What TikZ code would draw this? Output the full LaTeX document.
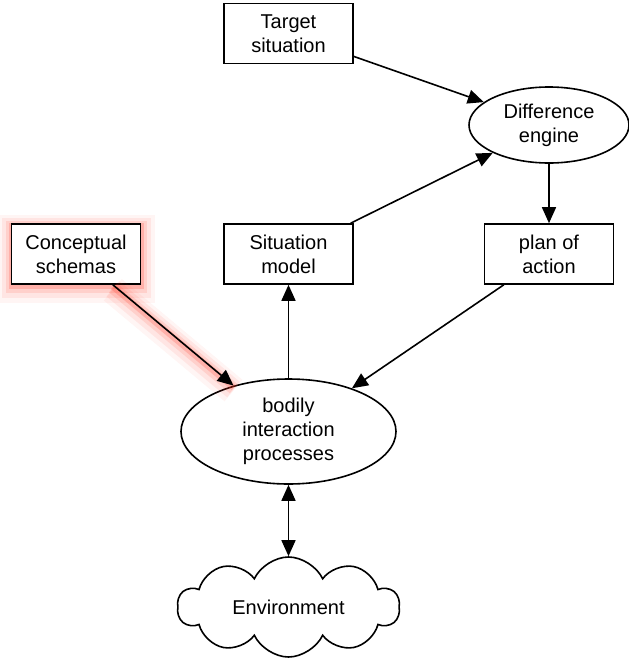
\documentclass[tikz,border=0pt]{standalone}
\usepackage{fontspec}
\setmainfont{Liberation Sans}
\usetikzlibrary{arrows.meta,shapes.geometric,shapes.symbols}
\definecolor{glowred}{RGB}{255,50,30}

\begin{document}
\begin{tikzpicture}[>={Triangle[length=8pt,width=7pt]}, x=0.5pt, y=-0.5pt, line width=0.8pt,
  every node/.style={font=\fontsize{10}{12}\selectfont, align=center},
  box/.style={shape=rectangle, draw, fill=white, minimum width=64.5pt, minimum height=30pt, inner sep=1pt},
  oval/.style={shape=ellipse, draw, fill=white, inner sep=0pt},
  glow/.style={
    preaction={draw=glowred, draw opacity=.05, line width=14pt, -, transform canvas={yshift=-2.5pt}},
    preaction={draw=glowred, draw opacity=.08, line width=10pt, -, transform canvas={yshift=-2pt}},
    preaction={draw=glowred, draw opacity=.12, line width=6pt, -, transform canvas={yshift=-1.5pt}},
    preaction={draw=glowred, draw opacity=.2, line width=3pt, -, transform canvas={yshift=-1pt}}}]

  \useasboundingbox (0,0) rectangle (628,659);

  \node (ts) at (288.5,33.5) [box] {Target\\situation};
  \node (de) at (549,125) [oval, minimum width=80pt, minimum height=38pt] {Difference\\engine};
  \node (cs) at (76,254) [box, glow] {Conceptual\\schemas};
  \node (sm) at (288.5,254) [box] {Situation\\model};
  \node (pa) at (549,254) [box] {plan of\\action};
  \node (bip) at (288.5,431.5) [oval, minimum width=107.5pt, minimum height=52.5pt] {bodily\\interaction\\processes};
  \node (env) at (288.5,607) [shape=cloud, draw, cloud puffs=10, cloud puff arc=130, cloud ignores aspect,
    minimum width=111pt, minimum height=50pt, inner sep=0pt] {Environment};

  \draw [->] (ts) -- (de);
  \draw [->] (sm) -- (de);
  \draw [->] (de) -- (pa);
  \draw [->] (pa) -- (bip);
  \draw [->, glow] (cs) -- (bip);
  \draw [->] (bip) -- (sm);
  \draw [<->] (bip) -- (env);

\end{tikzpicture}
\end{document}
